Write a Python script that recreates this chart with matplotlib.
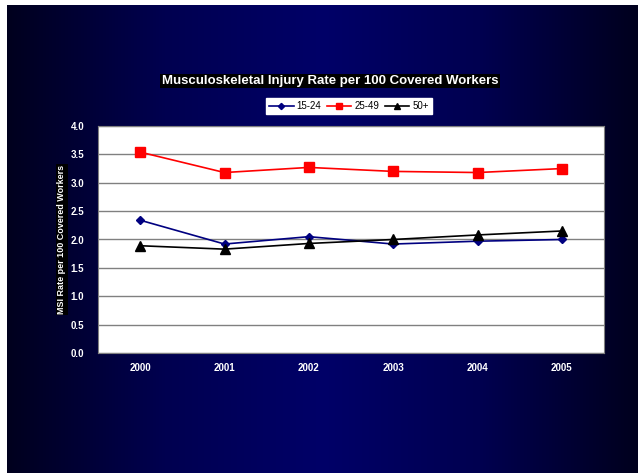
import numpy as np
import matplotlib
matplotlib.use('Agg')
import matplotlib.pyplot as plt
from matplotlib.colors import LinearSegmentedColormap

plt.rcParams['font.family'] = ['Liberation Sans', 'DejaVu Sans']

years = ['2000', '2001', '2002', '2003', '2004', '2005']
rate_15_24 = [2.34, 1.92, 2.05, 1.92, 1.97, 2.00]
rate_25_49 = [3.54, 3.18, 3.27, 3.20, 3.18, 3.25]
rate_50_plus = [1.89, 1.83, 1.93, 2.00, 2.08, 2.15]

fig = plt.figure(figsize=(6.38, 4.73), dpi=100)
fig.patch.set_facecolor('white')

# dark navy gradient background, leaving a thin white strip top and left
bg = fig.add_axes([7 / 638, 0, 631 / 638, 468 / 473])
bg.set_axis_off()
cmap = LinearSegmentedColormap.from_list('navy', ['#00001e', '#000050', '#000068', '#000050', '#00001e'])
grad = np.linspace(0, 1, 256).reshape(1, -1)
bg.imshow(grad, aspect='auto', cmap=cmap, extent=[0, 1, 0, 1])

ax = fig.add_axes([98 / 638, 1 - 353 / 473, 506 / 638, 227 / 473])
ax.set_facecolor('white')
x = np.arange(len(years))
ax.plot(x, rate_15_24, color='#000080', marker='D', markersize=4.5, linewidth=1.2, label='15-24')
ax.plot(x, rate_25_49, color='#ff0000', marker='s', markersize=6.5, linewidth=1.2, label='25-49')
ax.plot(x, rate_50_plus, color='black', marker='^', markersize=6.5, linewidth=1.2, label='50+')

ax.set_xlim(-0.5, 5.5)
ax.set_ylim(0, 4.0)
ax.set_yticks(np.arange(0, 4.01, 0.5))
ax.set_yticklabels(['%.1f' % v for v in np.arange(0, 4.01, 0.5)])
ax.set_xticks(x)
ax.set_xticklabels(years)
ax.yaxis.grid(True, color='#808080', linewidth=1)
ax.set_axisbelow(True)
ax.tick_params(axis='x', length=0, colors='white', labelsize=7, pad=7)
ax.tick_params(axis='y', length=0, colors='white', labelsize=7, pad=10)
for lbl in ax.get_xticklabels() + ax.get_yticklabels():
    lbl.set_fontweight('bold')
for s in ax.spines.values():
    s.set_color('#808080')

ax.set_ylabel('MSI Rate per 100 Covered Workers', color='white', fontsize=6.5, fontweight='bold',
              labelpad=3, bbox=dict(facecolor='black', edgecolor='none', pad=1))

fig.text(330 / 638, 1 - 81 / 473, 'Musculoskeletal Injury Rate per 100 Covered Workers',
         ha='center', va='center', color='white', fontsize=9.5, fontweight='bold',
         bbox=dict(facecolor='black', edgecolor='none', pad=1))

leg = fig.legend(loc='center', bbox_to_anchor=(349 / 638, 1 - 106 / 473), ncol=3, fontsize=7,
                 frameon=True, fancybox=False, edgecolor='white', facecolor='white', framealpha=1,
                 handlelength=2.5, handletextpad=0.3, columnspacing=0.6, borderpad=0.3,
                 markerscale=0.7)

fig.savefig('out.png', dpi=100, facecolor=fig.get_facecolor())
